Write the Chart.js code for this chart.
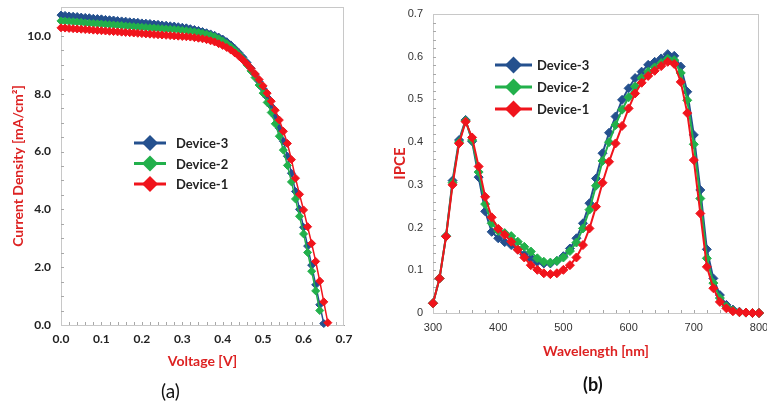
<!DOCTYPE html>
<html lang="en">
<head>
  <meta charset="UTF-8">
  <title>J-V and IPCE of Device-1/2/3</title>
  <script src="https://cdn.jsdelivr.net/npm/chart.js"></script>
  <style>
    body { margin: 0; background: #fff; }
    #wrap { position: relative; width: 767px; height: 408px; overflow: hidden; }
    #jvChart { position: absolute; left: 0; top: 0; }
    #ipceChart { position: absolute; left: 383px; top: 0; }
    .tag { position: absolute; font-family: Lato, sans-serif; color: #111; line-height: 1.2; }
  </style>
</head>
<body>
  <div id="wrap">
    <canvas id="jvChart" width="383" height="408"></canvas>
    <canvas id="ipceChart" width="384" height="408"></canvas>
    <div class="tag" style="left:161px; top:380px; font-size:19px;">(a)</div>
    <div class="tag" style="left:583px; top:374px; font-size:18px; font-weight:bold;">(b)</div>
  </div>

  <script>
    // ---- (a) J-V data ----
    const voltage = [
      0.00, 0.01, 0.02, 0.03, 0.04, 0.05, 0.06, 0.07, 0.08, 0.09,
      0.10, 0.11, 0.12, 0.13, 0.14, 0.15, 0.16, 0.17, 0.18, 0.19,
      0.20, 0.21, 0.22, 0.23, 0.24, 0.25, 0.26, 0.27, 0.28, 0.29,
      0.30, 0.31, 0.32, 0.33, 0.34, 0.35, 0.36, 0.37, 0.38, 0.39,
      0.40, 0.41, 0.42, 0.43, 0.44, 0.45, 0.46, 0.47, 0.48, 0.49,
      0.50, 0.51, 0.52, 0.53, 0.54, 0.55, 0.56, 0.57, 0.58, 0.59,
      0.60, 0.61, 0.62, 0.63, 0.64, 0.65, 0.66
    ];
    const jDevice1 = [
      10.28, 10.27, 10.26, 10.25, 10.24, 10.23, 10.22, 10.21, 10.20, 10.19,
      10.18, 10.17, 10.16, 10.15, 10.14, 10.13, 10.12, 10.11, 10.10, 10.09,
      10.08, 10.07, 10.06, 10.05, 10.04, 10.03, 10.02, 10.01, 10.00, 9.99,
      9.98, 9.97, 9.96, 9.94, 9.92, 9.90, 9.87, 9.83, 9.79, 9.73,
      9.67, 9.60, 9.51, 9.41, 9.30, 9.17, 9.03, 8.87, 8.69, 8.49,
      8.27, 8.02, 7.74, 7.43, 7.09, 6.70, 6.28, 5.72, 5.08, 4.52,
      3.98, 3.40, 2.82, 2.20, 1.52, 0.80, 0.08
    ];
    const jDevice2 = [
      10.52, 10.51, 10.50, 10.49, 10.48, 10.47, 10.45, 10.44, 10.43, 10.42,
      10.41, 10.40, 10.39, 10.38, 10.37, 10.36, 10.34, 10.33, 10.32, 10.31,
      10.30, 10.29, 10.28, 10.27, 10.26, 10.25, 10.24, 10.23, 10.22, 10.21,
      10.19, 10.18, 10.16, 10.14, 10.12, 10.09, 10.06, 10.02, 9.97, 9.90,
      9.82, 9.73, 9.62, 9.50, 9.36, 9.19, 9.00, 8.79, 8.56, 8.30,
      8.02, 7.70, 7.35, 6.96, 6.53, 6.05, 5.52, 4.95, 4.36, 3.76,
      3.15, 2.51, 1.86, 1.18, 0.50
    ];
    const jDevice3 = [
      10.72, 10.71, 10.69, 10.68, 10.67, 10.65, 10.64, 10.63, 10.61, 10.60,
      10.59, 10.57, 10.56, 10.55, 10.53, 10.52, 10.51, 10.49, 10.48, 10.47,
      10.45, 10.44, 10.43, 10.41, 10.40, 10.38, 10.37, 10.35, 10.34, 10.32,
      10.30, 10.28, 10.25, 10.22, 10.19, 10.15, 10.11, 10.07, 10.02, 9.96,
      9.89, 9.80, 9.69, 9.56, 9.42, 9.26, 9.08, 8.88, 8.66, 8.42,
      8.17, 7.88, 7.57, 7.21, 6.81, 6.36, 5.84, 5.25, 4.62, 4.00,
      3.38, 2.73, 2.07, 1.39, 0.70, 0.05
    ];
    const voltageTicks = [0.0, 0.1, 0.2, 0.3, 0.4, 0.5, 0.6, 0.7];
    const currentTicks = [0, 2, 4, 6, 8, 10];

    // ---- (b) IPCE data ----
    const wavelength = [
      300, 310, 320, 330, 340, 350, 360, 370, 380, 390,
      400, 410, 420, 430, 440, 450, 460, 470, 480, 490,
      500, 510, 520, 530, 540, 550, 560, 570, 580, 590,
      600, 610, 620, 630, 640, 650, 660, 670, 680, 690,
      700, 710, 720, 730, 740, 750, 760, 770, 780, 790, 800
    ];
    const ipceDevice1 = [
      0.023, 0.081, 0.179, 0.300, 0.397, 0.448, 0.411, 0.343, 0.272, 0.224,
      0.197, 0.183, 0.167, 0.148, 0.130, 0.112, 0.101, 0.093, 0.091, 0.093,
      0.101, 0.112, 0.130, 0.159, 0.198, 0.249, 0.305, 0.354, 0.397, 0.438,
      0.479, 0.514, 0.539, 0.555, 0.567, 0.578, 0.588, 0.583, 0.541, 0.468,
      0.358, 0.233, 0.108, 0.058, 0.026, 0.011, 0.004, 0.002, 0.001, 0.000, 0.000
    ];
    const ipceDevice2 = [
      0.023, 0.081, 0.180, 0.305, 0.400, 0.450, 0.405, 0.330, 0.255, 0.210,
      0.192, 0.187, 0.180, 0.167, 0.155, 0.144, 0.128, 0.120, 0.118, 0.122,
      0.130, 0.145, 0.165, 0.198, 0.242, 0.298, 0.356, 0.400, 0.440, 0.476,
      0.505, 0.530, 0.550, 0.565, 0.575, 0.585, 0.595, 0.592, 0.562, 0.498,
      0.395, 0.268, 0.128, 0.070, 0.035, 0.015, 0.006, 0.002, 0.001, 0.000, 0.000
    ];
    const ipceDevice3 = [
      0.023, 0.081, 0.180, 0.310, 0.405, 0.452, 0.402, 0.318, 0.238, 0.190,
      0.175, 0.166, 0.159, 0.149, 0.137, 0.128, 0.120, 0.116, 0.116, 0.122,
      0.133, 0.151, 0.175, 0.210, 0.257, 0.315, 0.374, 0.422, 0.460, 0.499,
      0.526, 0.550, 0.565, 0.581, 0.588, 0.596, 0.606, 0.602, 0.577, 0.518,
      0.417, 0.288, 0.149, 0.081, 0.042, 0.019, 0.008, 0.003, 0.001, 0.000, 0.000
    ];
    const wavelengthTicks = [300, 400, 500, 600, 700, 800];
    const ipceTicks = [0, 0.1, 0.2, 0.3, 0.4, 0.5, 0.6, 0.7];

    const RED = '#f0141c';
    const GREEN = '#22b04b';
    const BLUE = '#24508e';
    const TITLE_RED = '#dd2222';

    // 圖框 + 內側小刻度
    const frameAndTicks = {
      id: 'frameAndTicks',
      beforeDatasetsDraw(chart, args, opts) {
        const { ctx, chartArea: a, scales: { x, y } } = chart;
        ctx.save();
        ctx.strokeStyle = opts.frameColor;
        ctx.lineWidth = 1;
        ctx.strokeRect(a.left + 0.5, a.top + 0.5, a.right - a.left - 1, a.bottom - a.top);
        ctx.strokeStyle = opts.tickColor;
        ctx.beginPath();
        const nx = Math.round((x.max - x.min) / opts.xStep);
        for (let i = 1; i < nx; i++) {
          const px = Math.round(x.getPixelForValue(x.min + i * opts.xStep)) + 0.5;
          ctx.moveTo(px, a.bottom);
          ctx.lineTo(px, a.bottom - opts.len);
        }
        const ny = Math.round((y.max - y.min) / opts.yStep);
        for (let i = 1; i < ny; i++) {
          const py = Math.round(y.getPixelForValue(y.min + i * opts.yStep)) + 0.5;
          ctx.moveTo(a.left, py);
          ctx.lineTo(a.left + opts.len, py);
        }
        ctx.stroke();
        ctx.restore();
      }
    };

    // 圖內圖例 (line + diamond)
    const insideLegend = {
      id: 'insideLegend',
      afterDatasetsDraw(chart, args, opts) {
        const ctx = chart.ctx;
        const items = chart.data.datasets.slice().reverse();
        ctx.save();
        items.forEach((ds, i) => {
          const cy = opts.y + i * opts.gap;
          const cx = (opts.x1 + opts.x2) / 2;
          const r = opts.r;
          ctx.strokeStyle = ds.borderColor;
          ctx.lineWidth = opts.lineWidth;
          ctx.beginPath();
          ctx.moveTo(opts.x1, cy);
          ctx.lineTo(opts.x2, cy);
          ctx.stroke();
          ctx.fillStyle = ds.borderColor;
          ctx.beginPath();
          ctx.moveTo(cx, cy - r);
          ctx.lineTo(cx + r, cy);
          ctx.lineTo(cx, cy + r);
          ctx.lineTo(cx - r, cy);
          ctx.closePath();
          ctx.fill();
          ctx.fillStyle = '#222';
          ctx.font = 'bold 13px Lato, sans-serif';
          ctx.textBaseline = 'middle';
          ctx.fillText(ds.label, opts.textX, cy + 1);
        });
        ctx.restore();
      }
    };

    function series(label, xs, ys, color, r, w) {
      return {
        label: label,
        data: ys.map((v, i) => ({ x: xs[i], y: v })),
        borderColor: color,
        backgroundColor: color,
        pointBackgroundColor: color,
        pointBorderColor: color,
        pointStyle: 'rectRot',
        pointRadius: r,
        pointBorderWidth: 1,
        borderWidth: w,
        tension: 0,
        fill: false,
        clip: false
      };
    }

    function axis(opts) {
      return {
        type: 'linear',
        min: opts.min,
        max: opts.max,
        afterBuildTicks: s => { s.ticks = opts.ticks.map(v => ({ value: v })); },
        afterFit: s => {
          if (opts.width) s.width = opts.width;
          if (opts.height) s.height = opts.height;
          s.paddingLeft = 0; s.paddingRight = 0; s.paddingTop = 0; s.paddingBottom = 0;
        },
        grid: { display: false, drawTicks: false },
        border: { display: true, color: '#a8a8a8' },
        ticks: {
          autoSkip: false, maxRotation: 0, padding: opts.tickPad,
          color: opts.tickColor, font: opts.tickFont, callback: opts.fmt
        },
        title: {
          display: true, text: opts.title, color: TITLE_RED,
          font: opts.titleFont, padding: opts.titlePad
        }
      };
    }

    const common = {
      responsive: false,
      animation: false,
      events: [],
      plugins: { legend: { display: false }, tooltip: { enabled: false } }
    };

    // (a) J-V
    new Chart(document.getElementById('jvChart'), {
      type: 'line',
      data: {
        datasets: [
          series('Device-1', voltage, jDevice1, RED, 4, 1.5),
          series('Device-2', voltage, jDevice2, GREEN, 4, 1.5),
          series('Device-3', voltage, jDevice3, BLUE, 4, 1.5)
        ]
      },
      options: {
        ...common,
        layout: { padding: { left: 0, right: 39, top: 7, bottom: 37 } },
        scales: {
          x: axis({
            min: 0, max: 0.7, ticks: voltageTicks, height: 46, tickPad: 7,
            tickColor: '#222', tickFont: { family: 'Lato', size: 12, weight: 'bold' },
            fmt: v => v.toFixed(1), title: 'Voltage [V]',
            titleFont: { family: 'Lato', size: 14, weight: 'bold' }, titlePad: { top: 0, bottom: 1 }
          }),
          y: axis({
            min: 0, max: 11, ticks: currentTicks, width: 61, tickPad: 10,
            tickColor: '#222', tickFont: { family: 'Lato', size: 12, weight: 'bold' },
            fmt: v => v.toFixed(1), title: 'Current Density [mA/cm\u00B2]',
            titleFont: { family: 'Lato', size: 14, weight: 'bold' }, titlePad: { top: 10, bottom: 0 }
          })
        },
        plugins: {
          ...common.plugins,
          frameAndTicks: { frameColor: '#c8c8c8', tickColor: '#a8a8a8', len: 3, xStep: 0.02, yStep: 0.5 },
          insideLegend: { x1: 134, x2: 166, textX: 176, y: 143, gap: 20.5, r: 8, lineWidth: 3 }
        }
      },
      plugins: [frameAndTicks, insideLegend]
    });

    // (b) IPCE
    new Chart(document.getElementById('ipceChart'), {
      type: 'line',
      data: {
        datasets: [
          series('Device-1', wavelength, ipceDevice1, RED, 4.5, 2),
          series('Device-2', wavelength, ipceDevice2, GREEN, 4.5, 2),
          series('Device-3', wavelength, ipceDevice3, BLUE, 4.5, 2)
        ]
      },
      options: {
        ...common,
        layout: { padding: { left: 0, right: 8, top: 14, bottom: 47 } },
        scales: {
          x: axis({
            min: 300, max: 800, ticks: wavelengthTicks, height: 48, tickPad: 8,
            tickColor: '#333', tickFont: { family: 'Liberation Sans', size: 11 },
            fmt: v => String(v), title: 'Wavelength [nm]',
            titleFont: { family: 'Lato', size: 14, weight: 'bold' }, titlePad: { top: 0, bottom: 1 }
          }),
          y: axis({
            min: 0, max: 0.7, ticks: ipceTicks, width: 50, tickPad: 10,
            tickColor: '#333', tickFont: { family: 'Liberation Sans', size: 11 },
            fmt: v => (v === 0 ? '0' : v.toFixed(1)), title: 'IPCE',
            titleFont: { family: 'Lato', size: 15, weight: 'bold' }, titlePad: { top: 8, bottom: 0 }
          })
        },
        plugins: {
          ...common.plugins,
          frameAndTicks: { frameColor: '#c8c8c8', tickColor: '#a8a8a8', len: 3, xStep: 20, yStep: 0.02 },
          insideLegend: { x1: 112, x2: 149, textX: 154, y: 65, gap: 22, r: 8.5, lineWidth: 3 }
        }
      },
      plugins: [frameAndTicks, insideLegend]
    });
  </script>
</body>
</html>
